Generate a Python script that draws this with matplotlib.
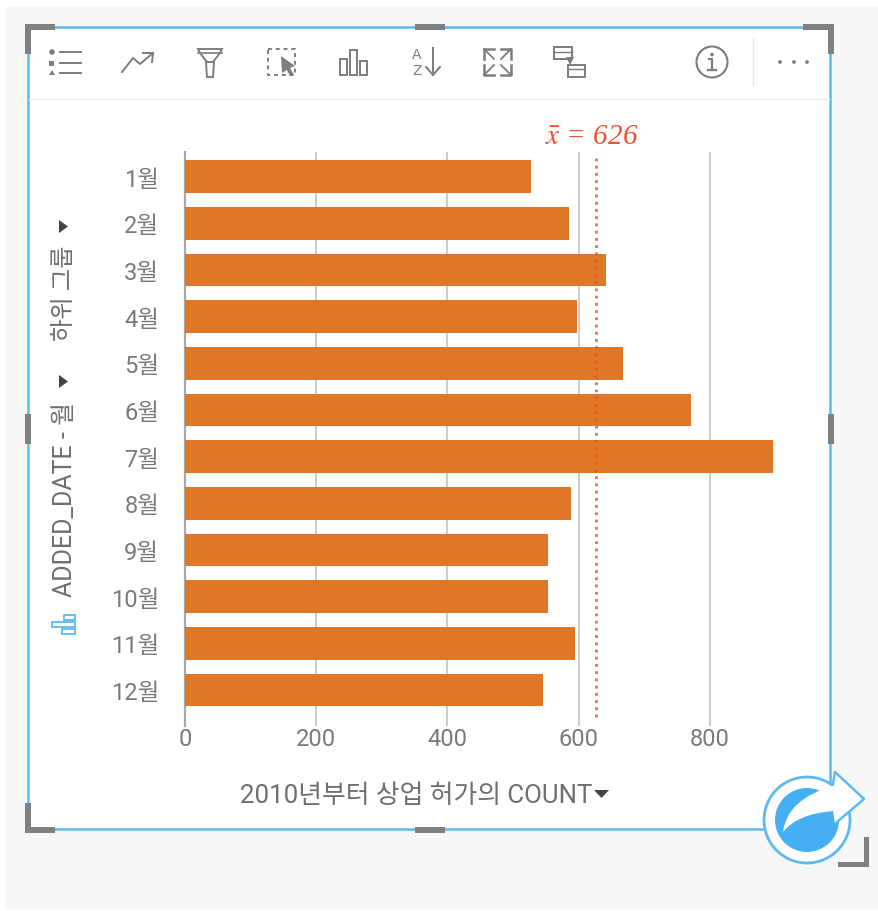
import matplotlib
matplotlib.use('Agg')
import matplotlib.pyplot as plt
from matplotlib.patches import Rectangle, Circle, Polygon, PathPatch
from matplotlib.path import Path

plt.rcParams['font.family'] = ['Roboto', 'Noto Sans CJK KR', 'DejaVu Sans']
plt.rcParams['mathtext.fontset'] = 'stix'

months = ['1월', '2월', '3월', '4월', '5월', '6월', '7월', '8월', '9월', '10월', '11월', '12월']
counts = [527, 586, 642, 597, 668, 772, 896, 589, 553, 554, 594, 545]
mean_value = 626
xticks = [0, 200, 400, 600, 800]
xlabel = '2010년부터 상업 허가의 COUNT'
ylabel_parts = ['ADDED_DATE - 월', '하위 그룹']

W, H = 879, 912
BLUE = '#5cb9f2'
HANDLE = '#808080'
ICON = '#7d7d7d'
TEXT = '#6f6f6f'
ORANGE = '#e07726'
RED = '#ea5330'

fig = plt.figure(figsize=(W / 100, H / 100), dpi=100)

# background layer, in pixels
bg = fig.add_axes([0, 0, 1, 1], zorder=0)
bg.set_xlim(0, W)
bg.set_ylim(H, 0)
bg.axis('off')
bg.add_patch(Rectangle((5, 8), W - 5, 902, fc='#f7f7f7', ec='none'))
bg.add_patch(Rectangle((28, 28), 802, 802, fc='white', ec=BLUE, lw=1.8))
bg.plot([29, 829], [100, 100], color='#f1f1f1', lw=1)
bg.plot([753, 753], [39, 86], color='#e6e6e6', lw=1)

# chart
left, right, top, bottom = 185.0, 775.0, 153.0, 727.0
ax = fig.add_axes([left / W, 1 - bottom / H, (right - left) / W, (bottom - top) / H], zorder=1)
ax.patch.set_alpha(0)
ax.barh(range(len(months)), counts, height=0.70, color=ORANGE, zorder=3)
ax.set_xlim(0, (right - left) / 0.656)
ax.set_ylim(11.77, -0.525)
ax.set_xticks(xticks)
ax.set_yticks(range(len(months)))
ax.set_yticklabels(months)
ax.tick_params(axis='y', length=0, pad=18.5, labelsize=17, labelcolor='#7a7a7a')
ax.tick_params(axis='x', length=0, pad=1, labelsize=17, labelcolor='#7a7a7a')
ax.grid(axis='x', color='#c8c8c8', lw=1.3, zorder=1)
for s in ax.spines.values():
    s.set_visible(False)
ax.spines['left'].set_visible(True)
ax.spines['left'].set_color('#a8a8a8')
ax.spines['left'].set_linewidth(1.6)
ax.plot([mean_value, mean_value], [-0.4, 11.6], color=RED, lw=2, ls=(0, (1, 1.6)), alpha=0.85, zorder=4)

# overlay, in pixels
ov = fig.add_axes([0, 0, 1, 1], zorder=2)
ov.set_xlim(0, W)
ov.set_ylim(H, 0)
ov.axis('off')
ov.patch.set_alpha(0)

ov.text(592, 137, r'$\bar{x}$ = ' + str(mean_value), color=RED, family='Liberation Serif', style='italic',
        fontsize=21, ha='center', va='center')

ov.text(240, 796, xlabel, color=TEXT, fontsize=18.6, ha='left', va='center')
ov.add_patch(Polygon([(594, 791), (609, 791), (601.5, 799)], fc='#444444', ec='none'))

ov.text(65, 597, ylabel_parts[0], color=TEXT, fontsize=18, rotation=90, ha='center', va='bottom')
ov.add_patch(Polygon([(59, 389), (59, 376), (68, 382.5)], fc='#444444', ec='none'))
ov.text(65, 341, ylabel_parts[1], color=TEXT, fontsize=17.5, rotation=90, ha='center', va='bottom')
ov.add_patch(Polygon([(59, 234), (59, 221), (68, 227.5)], fc='#444444', ec='none'))

# small blue bars icon next to the y label, lying on its side
ov.add_patch(Rectangle((64, 616), 11, 5, fc='none', ec=BLUE, lw=1.3))
ov.add_patch(Rectangle((52, 623), 23, 5, fc='none', ec=BLUE, lw=1.3))
ov.add_patch(Rectangle((62, 630), 13, 5, fc='none', ec=BLUE, lw=1.3))

# toolbar icons
ov.add_patch(Circle((52, 53), 2.8, fc=ICON, ec='none'))
ov.add_patch(Rectangle((49.5, 61.5), 5, 5, fc=ICON, ec='none'))
ov.add_patch(Polygon([(49, 76), (55, 76), (52, 71)], fc=ICON, ec='none'))
for y in (53, 64, 74):
    ov.plot([60, 81], [y, y], color=ICON, lw=1.4)
ov.plot([122, 133, 140, 153], [73, 59, 65, 54], color=ICON, lw=1.4)
ov.plot([143, 153, 152], [54, 54, 63], color=ICON, lw=1.4)
ov.add_patch(Polygon([(198, 50), (222, 50), (220, 54), (213, 63), (207, 63), (200, 54)], fc='none', ec=ICON, lw=1.4))
ov.plot([198, 222], [54, 54], color=ICON, lw=1.2)
ov.add_patch(Polygon([(206, 63), (214, 63), (213, 78), (207, 78)], fc='none', ec=ICON, lw=1.4))
ov.add_patch(Rectangle((268, 50), 27, 26, fc='none', ec=ICON, lw=1.4, ls=(0, (2, 2))))
ov.add_patch(Polygon([(281, 57), (295, 67), (290, 69), (294, 76), (290, 77), (287, 71), (282, 74)], fc=ICON, ec='none'))
ov.add_patch(Rectangle((340, 60), 7, 16, fc='none', ec=ICON, lw=1.4))
ov.add_patch(Rectangle((350, 51), 7, 25, fc='none', ec=ICON, lw=1.4))
ov.add_patch(Rectangle((360, 62), 7, 14, fc='none', ec=ICON, lw=1.4))
ov.text(417, 55, 'A', color=ICON, fontsize=10, ha='center', va='center', family='DejaVu Sans')
ov.text(417, 71, 'Z', color=ICON, fontsize=10, ha='center', va='center', family='DejaVu Sans')
ov.plot([433, 433], [49, 76], color=ICON, lw=1.4)
ov.plot([426, 433, 440], [68, 76, 68], color=ICON, lw=1.4)
for x0, y0, dx, dy in [(484, 50, 1, 1), (511, 50, -1, 1), (484, 76, 1, -1), (511, 76, -1, -1)]:
    ov.plot([x0 + 10 * dx, x0, x0], [y0, y0, y0 + 10 * dy], color=ICON, lw=1.8)
    ov.plot([x0, x0 + 10 * dx], [y0, y0 + 10 * dy], color=ICON, lw=1.3)
ov.add_patch(Rectangle((554, 48), 18, 12, fc='none', ec=ICON, lw=1.4))
ov.plot([554, 572], [53, 53], color=ICON, lw=1)
ov.add_patch(Rectangle((568, 66), 17, 12, fc='none', ec=ICON, lw=1.4))
ov.plot([568, 585], [70, 70], color=ICON, lw=1)
ov.add_patch(Polygon([(566, 58), (574, 58), (570, 66)], fc=ICON, ec='none'))
ov.add_patch(Circle((712, 63), 15.5, fc='none', ec=ICON, lw=1.5))
ov.add_patch(Circle((712, 55.5), 1.8, fc=ICON, ec='none'))
ov.plot([709, 712, 712], [60, 60, 70], color=ICON, lw=1.6)
ov.plot([708, 716], [71, 71], color=ICON, lw=1.6)
for x in (780, 794, 807):
    ov.add_patch(Circle((x, 63), 1.9, fc=ICON, ec='none'))

# resize handles
bars = [
    (25, 25, 30, 6), (25, 25, 6, 30), (803, 25, 30, 6), (828, 25, 6, 30),
    (25, 804, 6, 30), (25, 828, 30, 6), (415, 25, 30, 6), (415, 828, 30, 6),
    (25, 415, 6, 30), (828, 415, 6, 30), (864, 838, 5, 30), (838, 863, 31, 5),
]
for x, y, w, h in bars:
    ov.add_patch(Rectangle((x, y), w, h, fc=HANDLE, ec='none'))

# share badge
ov.add_patch(Circle((807, 821), 43, fc='white', ec=BLUE, lw=2))
ov.add_patch(Circle((807, 821), 32, fc='#45aff3', ec='none'))
verts = [(783, 833), (787, 800), (833, 787), (833, 773), (864, 800), (835, 824), (833, 812),
         (797, 815), (783, 833), (783, 833)]
codes = [Path.MOVETO, Path.CURVE3, Path.CURVE3, Path.LINETO, Path.LINETO, Path.LINETO, Path.LINETO,
         Path.CURVE3, Path.CURVE3, Path.CLOSEPOLY]
ov.add_patch(PathPatch(Path(verts, codes), fc='white', ec='none'))
ov.plot([833, 835, 864, 837], [785, 773, 800, 823], color=BLUE, lw=1.8)

fig.savefig('out.png', dpi=100)
